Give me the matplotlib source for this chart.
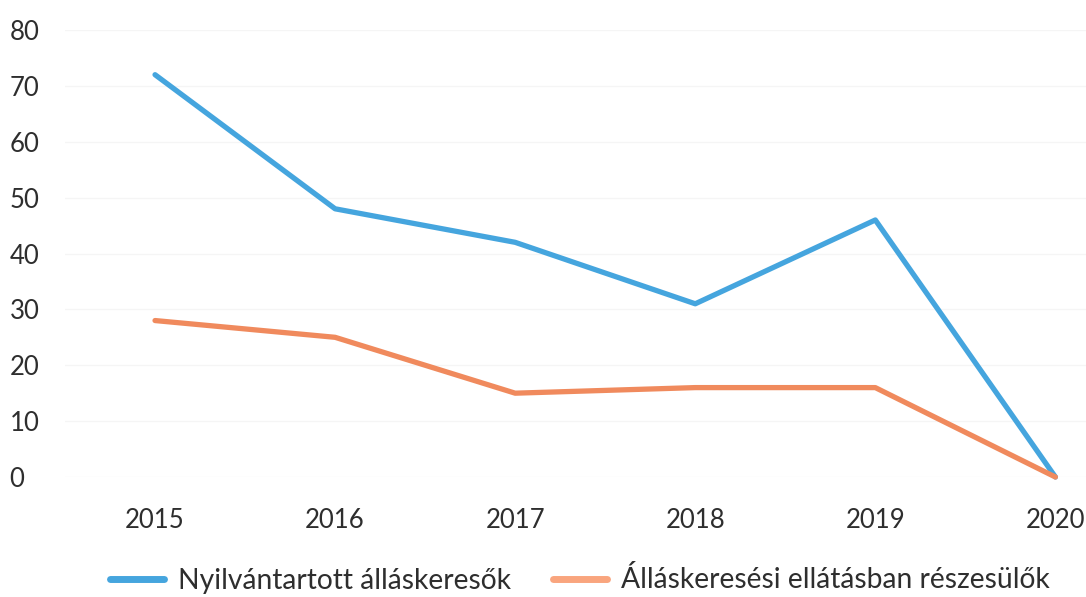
import matplotlib.pyplot as plt

years = ["2015", "2016", "2017", "2018", "2019", "2020"]
nyilvantartott = [72, 48, 42, 31, 46, 0]
ellatas = [28, 25, 15, 16, 16, 0]

plt.rcParams['font.family'] = ['Lato', 'DejaVu Sans']

fig = plt.figure(figsize=(10.86, 5.97), dpi=100)
ax = fig.add_axes([65 / 1086, 1 - 477 / 597, 1 - 65 / 1086, (477 - 30) / 597])

x = range(len(years))
ax.plot(x, nyilvantartott, color="#45A5DE", linewidth=3.8, clip_on=False,
        solid_capstyle="round", label="Nyilvántartott álláskeresők")
ax.plot(x, ellatas, color="#F08A5D", linewidth=3.8, clip_on=False,
        solid_capstyle="round", label="Álláskeresési ellátásban részesülők")

ax.set_ylim(0, 80)
ax.set_xlim(-0.5, 5.17)
ax.set_yticks(range(0, 81, 10))
ax.set_xticks(list(x))
ax.set_xticklabels(years)
ax.tick_params(axis="both", length=0, labelsize=18.5, colors="#2e2e2e")
ax.tick_params(axis="x", pad=22)
ax.tick_params(axis="y", pad=40)
for lab in ax.get_yticklabels():
    lab.set_horizontalalignment("left")
ax.grid(axis="y", color="#f5f5f5", linewidth=1)
for s in ax.spines.values():
    s.set_visible(False)

leg = fig.legend(loc="center left", bbox_to_anchor=(110 / 1086, 1 - 580 / 597), ncol=2,
                 frameon=False, fontsize=20.3, handlelength=1.9, columnspacing=1.5,
                 handletextpad=0.5, borderpad=0, borderaxespad=0)
leg.get_lines()[0].set_linewidth(5)
leg.get_lines()[1].set_linewidth(5)
leg.get_lines()[1].set_color("#F9A57E")
for t in leg.get_texts():
    t.set_color("#2e2e2e")

fig.savefig("out.png", dpi=100)
